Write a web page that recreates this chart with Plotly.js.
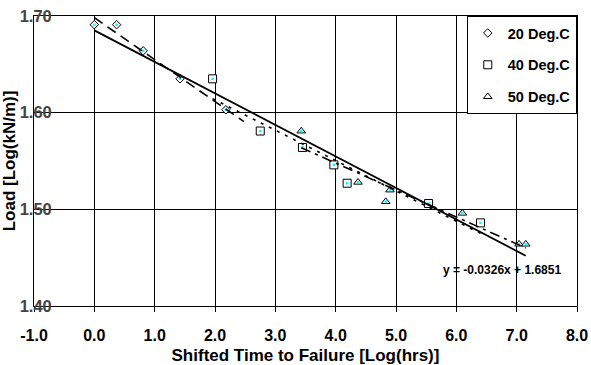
<!DOCTYPE html>
<html>
<head>
<meta charset="utf-8">
<script src="https://cdn.plot.ly/plotly-3.0.1.min.js"></script>
<style>
  html, body { margin: 0; padding: 0; background: #ffffff; }
  #chart { width: 591px; height: 365px; }
</style>
</head>
<body>
<div id="chart"></div>
<script>
// Shifted creep-rupture data, log(time) vs log(load), per test temperature
const seriesNames = ['20 Deg.C', '40 Deg.C', '50 Deg.C'];

const x20 = [0.00, 0.37, 0.81, 1.42, 2.18];
const y20 = [1.691, 1.691, 1.664, 1.635, 1.603];

const x40 = [1.96, 2.75, 3.45, 3.97, 4.19, 5.54, 6.40];
const y40 = [1.635, 1.581, 1.564, 1.546, 1.527, 1.506, 1.486];

const x50 = [3.43, 4.37, 4.83, 4.90, 6.10, 7.04, 7.15];
const y50 = [1.581, 1.528, 1.508, 1.520, 1.496, 1.464, 1.464];

// Master curve (all temperatures): y = slope * x + intercept
const masterSlope = [-0.0326];
const masterIntercept = [1.6851];

const xTickVals = [-1, 0, 1, 2, 3, 4, 5, 6, 7, 8];
const xTickText = ['-1.0', '0.0', '1.0', '2.0', '3.0', '4.0', '5.0', '6.0', '7.0', '8.0'];
const yTickVals = [1.40, 1.50, 1.60, 1.70];
const yTickText = ['1.40', '1.50', '1.60', '1.70'];

const FONT = 'Liberation Sans, Arial, Helvetica, sans-serif';

// Least-squares straight line through one series
function linFit(xs, ys) {
  const n = xs.length;
  const mx = xs.reduce((a, b) => a + b, 0) / n;
  const my = ys.reduce((a, b) => a + b, 0) / n;
  let sxy = 0, sxx = 0;
  for (let i = 0; i < n; i++) {
    sxy += (xs[i] - mx) * (ys[i] - my);
    sxx += (xs[i] - mx) * (xs[i] - mx);
  }
  const m = sxy / sxx;
  return { m: m, b: my - m * mx };
}

function lineTrace(m, b, x0, x1, dash, width) {
  return {
    x: [x0, x1],
    y: [m * x0 + b, m * x1 + b],
    mode: 'lines',
    line: { color: '#000000', width: width, dash: dash },
    showlegend: false,
    hoverinfo: 'skip'
  };
}

const groups = [
  { name: seriesNames[0], x: x20, y: y20, symbol: 'diamond', size: 6.5, dash: '10px,6px', forward: 0.3 },
  { name: seriesNames[1], x: x40, y: y40, symbol: 'square', size: 8, dash: '3px,6px', forward: 0 },
  { name: seriesNames[2], x: x50, y: y50, symbol: 'triangle-up', size: 7.5, dash: '10px,5px,3px,5px', forward: 0 }
];

const traces = [];

// hollow markers with a small cyan centre
groups.forEach((g, i) => {
  traces.push({
    x: g.x, y: g.y, name: g.name, mode: 'markers', type: 'scatter',
    legendgroup: 'g' + i,
    marker: { symbol: g.symbol, size: g.size, color: '#ffffff',
              line: { color: '#000000', width: 1 } }
  });
});
groups.forEach((g, i) => {
  traces.push({
    x: g.x, y: g.y, mode: 'markers', type: 'scatter',
    legendgroup: 'g' + i, showlegend: false, hoverinfo: 'skip',
    marker: { symbol: 'square', size: 2.5, color: '#00ffff', line: { width: 0 } }
  });
});

// per-temperature trendlines
groups.forEach((g) => {
  const f = linFit(g.x, g.y);
  const x0 = Math.min(...g.x);
  const x1 = Math.max(...g.x) + g.forward;
  traces.push(lineTrace(f.m, f.b, x0, x1, g.dash, 1.6));
});

// master trendline over the full data range
const allX = x20.concat(x40, x50);
traces.push(lineTrace(masterSlope[0], masterIntercept[0],
  Math.min(...allX), Math.max(...allX), 'solid', 1.8));

const eqText = 'y = ' + masterSlope[0].toFixed(4) + 'x + ' + masterIntercept[0].toFixed(4);

const layout = {
  width: 591,
  height: 365,
  margin: { l: 34, r: 14, t: 16, b: 59, pad: 0 },
  paper_bgcolor: '#ffffff',
  plot_bgcolor: '#ffffff',
  font: { family: FONT, color: '#000000', size: 16, weight: 'bold' },
  showlegend: true,
  legend: {
    x: 0.797, y: 1, xanchor: 'left', yanchor: 'top',
    bgcolor: '#ffffff', bordercolor: '#000000', borderwidth: 1,
    font: { family: FONT, size: 14.5, weight: 'bold', color: '#000000' },
    tracegroupgap: 10
  },
  xaxis: {
    range: [-1, 8],
    tickvals: xTickVals, ticktext: xTickText,
    ticks: 'outside', ticklen: 5, tickcolor: '#000000', tickwidth: 1,
    ticklabelstandoff: 10,
    showgrid: true, gridcolor: '#000000', gridwidth: 1,
    zeroline: false,
    showline: true, linecolor: '#000000', linewidth: 1, mirror: true,
    tickfont: { family: FONT, size: 16, weight: 'bold' },
    title: { text: 'Shifted Time to Failure [Log(hrs)]', standoff: 6,
             font: { family: FONT, size: 17, weight: 'bold' } }
  },
  yaxis: {
    range: [1.40, 1.70],
    tickvals: yTickVals, ticktext: yTickText,
    ticks: '', ticklabelposition: 'inside', ticklabeloverflow: 'allow',
    ticklabelstandoff: -14,
    showgrid: true, gridcolor: '#000000', gridwidth: 1,
    zeroline: false,
    showline: true, linecolor: '#000000', linewidth: 1, mirror: true,
    tickfont: { family: FONT, size: 16.5, weight: 'bold' },
    title: { text: 'Load [Log(kN/m)]', standoff: 14,
             font: { family: FONT, size: 17, weight: 'bold' } }
  },
  annotations: [{
    x: 6.76, y: 1.437, xref: 'x', yref: 'y',
    text: eqText, showarrow: false,
    font: { family: FONT, size: 12, weight: 'bold', color: '#000000' }
  }]
};

Plotly.newPlot('chart', traces, layout, { displayModeBar: false, staticPlot: true });
</script>
</body>
</html>
